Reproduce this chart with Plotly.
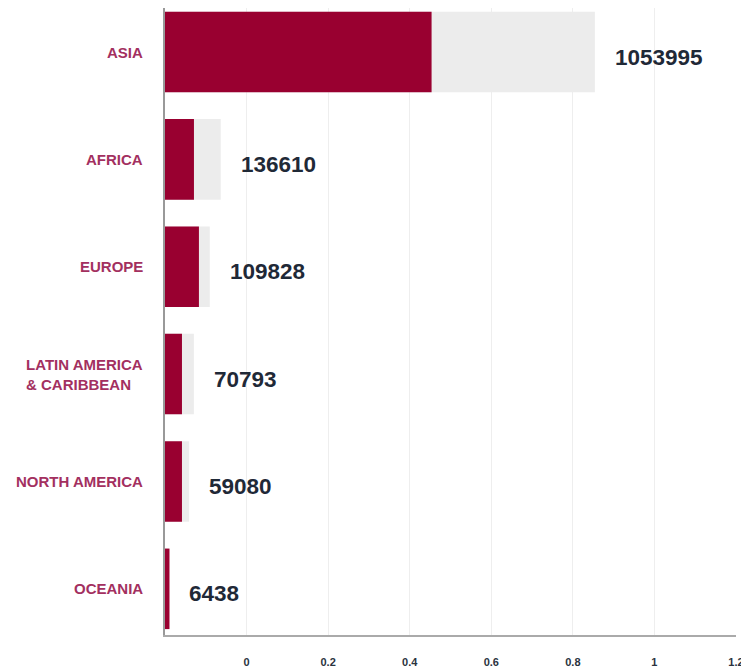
import plotly.graph_objects as go

regions = ["ASIA", "AFRICA", "EUROPE", "LATIN AMERICA<br>& CARIBBEAN", "NORTH AMERICA", "OCEANIA"]
totals = [1053995, 136610, 109828, 70793, 59080, 6438]
highlight = [653600, 71000, 83200, 41600, 41600, 11000]

tick_vals = [0, 0.2, 0.4, 0.6, 0.8, 1.0, 1.2]
tick_text = ["0", "0.2", "0.4", "0.6", "0.8", "1", "1.2"]

X_MIN, X_MAX = -0.2, 1.2
SCALE = 1e6

cat_keys = [r.replace("<br>", " ") for r in regions]

fig = go.Figure()
fig.add_trace(go.Bar(
    y=cat_keys, x=[v / SCALE for v in totals], base=X_MIN, orientation="h",
    marker=dict(color="#ececec", line=dict(width=0)), width=0.75,
    hoverinfo="skip", showlegend=False))
fig.add_trace(go.Bar(
    y=cat_keys, x=[v / SCALE for v in highlight], base=X_MIN, orientation="h",
    marker=dict(color="#990030", line=dict(width=0)), width=0.75,
    hoverinfo="skip", showlegend=False))

annotations = []
for key, label, t, h in zip(cat_keys, regions, totals, highlight):
    annotations.append(dict(
        x=X_MIN + max(t, h) / SCALE, y=key, xref="x", yref="y",
        text=str(t), showarrow=False, xanchor="left", yanchor="middle",
        xshift=18, yshift=-5,
        font=dict(family="Liberation Sans, Arial, sans-serif", size=22.5,
                  color="#1f2937", weight="bold")))
    annotations.append(dict(
        x=0, y=key, xref="paper", yref="y", text=label, showarrow=False,
        xanchor="right", yanchor="middle", align="left", xshift=-20,
        font=dict(family="Liberation Sans, Arial, sans-serif", size=15,
                  color="#a3305f", weight="bold")))

fig.update_layout(
    width=741, height=659,
    margin=dict(l=157, r=13, t=0, b=32),
    paper_bgcolor="white", plot_bgcolor="white",
    barmode="overlay", bargap=0.25,
    annotations=annotations,
    xaxis=dict(range=[X_MIN, X_MAX], tickvals=tick_vals, ticktext=tick_text,
               showgrid=True, gridcolor="#eeeeee", gridwidth=1,
               zeroline=False, showline=True, linecolor="#aaaaaa", linewidth=2,
               ticks="", ticklabelstandoff=16,
               tickfont=dict(family="Liberation Sans, Arial, sans-serif", size=11,
                             color="#2a3340", weight="bold"),
               fixedrange=True),
    yaxis=dict(type="category", categoryorder="array", categoryarray=cat_keys,
               range=[5.43, -0.41], showticklabels=False, showgrid=False,
               zeroline=False, showline=True, linecolor="#999999", linewidth=2,
               ticks="", fixedrange=True),
)

fig.write_html("out.html")
